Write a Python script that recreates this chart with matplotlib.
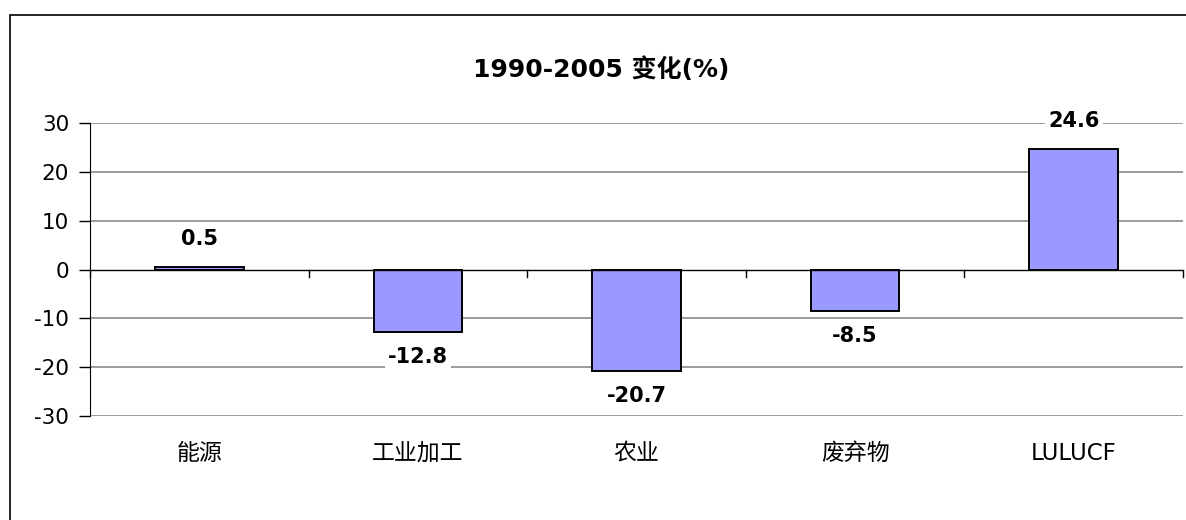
import matplotlib
matplotlib.use("Agg")
import matplotlib.pyplot as plt
from matplotlib.patches import Rectangle
import numpy as np

plt.rcParams['font.family'] = ['DejaVu Sans', 'Noto Sans CJK SC']

categories = ['能源', '工业加工', '农业', '废弃物', 'LULUCF']
values = [0.5, -12.8, -20.7, -8.5, 24.6]
yticks = [-30, -20, -10, 0, 10, 20, 30]
title = '1990-2005 变化(%)'

fig = plt.figure(figsize=(11.86, 5.2), dpi=100)
# outer chart frame
fig.patches.append(Rectangle((10/1186, -0.1), 1.2, 1 - 15/520 + 0.1,
                             transform=fig.transFigure, fill=False,
                             edgecolor='black', linewidth=1.2))

ax = fig.add_axes([90/1186, 1 - 416/520, (1183 - 90)/1186, (416 - 123)/520])
x = np.arange(len(categories)) + 0.5
ax.set_xlim(0, len(categories))
ax.set_ylim(-30, 30)

for t in yticks:
    if t == 0:
        continue
    ax.axhline(t, color='#808080', lw=1.1, zorder=1)
ax.axhline(0, color='black', lw=1.0, zorder=3)

ax.bar(x, values, width=0.405, color='#9999FF', edgecolor='black', linewidth=1.4, zorder=2)

for xi, v in zip(x, values):
    off = 28 if v >= 0 else -25
    ax.annotate(f'{v:.1f}', (xi, v), xytext=(0, off), textcoords='offset pixels',
                ha='center', va='center', fontsize=15, fontweight='bold', zorder=5,
                bbox=dict(boxstyle='square,pad=0.15', facecolor='white', edgecolor='none'))

# category boundary ticks on zero line
for b in range(0, len(categories) + 1):
    ax.plot([b, b], [0, -1.6], color='black', lw=1, zorder=3, clip_on=False)

for s in ['top', 'right', 'bottom']:
    ax.spines[s].set_visible(False)
ax.spines['left'].set_color('black')
ax.set_yticks(yticks)
ax.set_yticklabels([str(t) for t in yticks], fontsize=15.5)
ax.tick_params(axis='y', length=8, width=1, pad=7)
ax.set_xticks([])

for xi, c in zip(x, categories):
    ax.text(xi, -37.7, c, ha='center', va='center', fontsize=16.5)

fig.text(601/1186, 1 - 70/520, title, ha='center', va='center', fontsize=18, fontweight='bold')

fig.savefig('out.png', dpi=100)
